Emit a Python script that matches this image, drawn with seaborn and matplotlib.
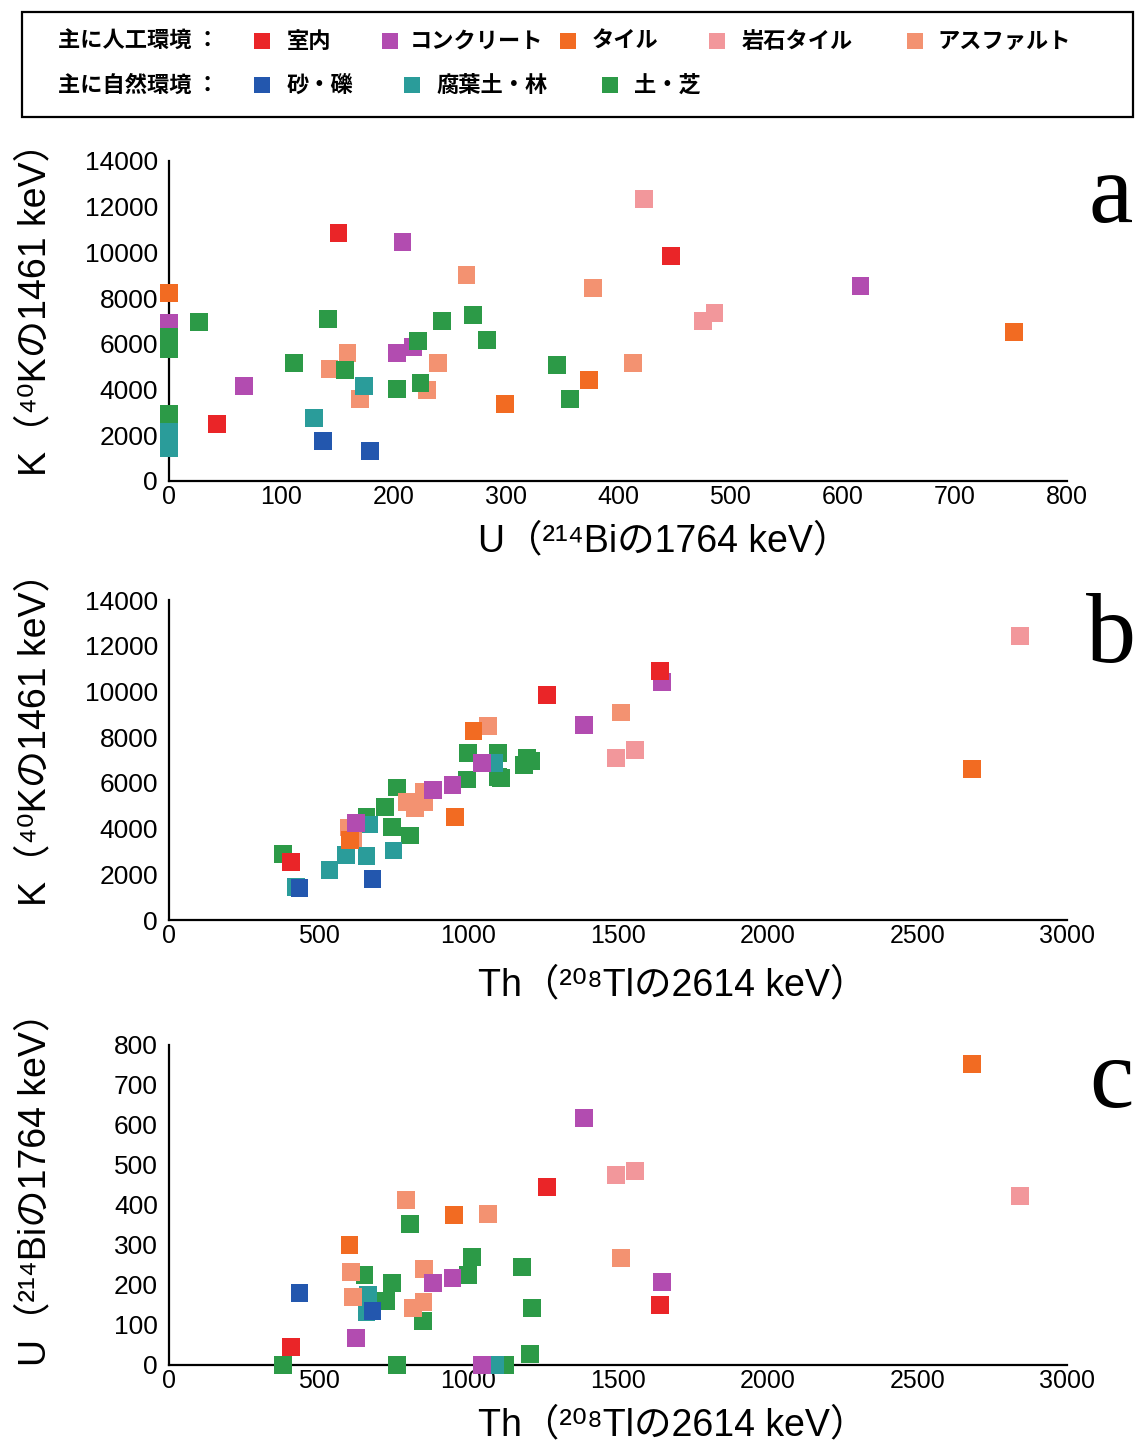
import matplotlib
matplotlib.use("Agg")
import matplotlib.pyplot as plt
import seaborn as sns
import pandas as pd
from matplotlib.patches import Rectangle

# ---------------- data ----------------
groups = ['室内', 'コンクリート', 'タイル', '岩石タイル', 'アスファルト', '砂・礫', '腐葉土・林', '土・芝']
colors = ['#EA2528', '#B24CB0', '#F26B22', '#F2979B', '#F39271', '#2357AE', '#2A9C9A', '#2C9A47']
artificial = ['室内', 'コンクリート', 'タイル', '岩石タイル', 'アスファルト']
natural = ['砂・礫', '腐葉土・林', '土・芝']

# panel a : U (x) vs K (y)
a_group = (['室内'] * 3 + ['コンクリート'] * 6 + ['タイル'] * 4 + ['岩石タイル'] * 3 +
           ['アスファルト'] * 8 + ['砂・礫'] * 2 + ['腐葉土・林'] * 6 + ['土・芝'] * 15)
a_u = [151, 43, 447,
       208, 0, 217, 203, 67, 616,
       0, 299, 374, 753,
       423, 486, 476,
       265, 159, 143, 240, 230, 170, 378, 413,
       137, 179,
       174, 129, 0, 0, 0, 0,
       0, 0, 0, 27, 142, 271, 243, 222, 283, 111, 157, 203, 224, 346, 357]
a_k = [10860, 2480, 9830,
       10470, 6900, 5860, 5610, 4160, 8530,
       8240, 3380, 4430, 6520,
       12350, 7360, 7000,
       9000, 5610, 4890, 5160, 3970, 3570, 8460, 5180,
       1750, 1310,
       4160, 2770, 2800, 2150, 1450, 6200,
       6300, 5750, 2920, 6950, 7070, 7250, 7000, 6120, 6170, 5180, 4860, 4040, 4270, 5070, 3600]

# panel b : Th (x) vs K (y)
b_group = (['室内'] * 3 + ['コンクリート'] * 6 + ['タイル'] * 4 + ['岩石タイル'] * 3 +
           ['アスファルト'] * 8 + ['砂・礫'] * 2 + ['腐葉土・林'] * 7 + ['土・芝'] * 15)
b_th = [1640, 1262, 407,
        1646, 1387, 1047, 947, 883, 625,
        1017, 955, 605, 2682,
        1557, 1493, 2843,
        1510, 1067, 795, 822, 852, 850, 600, 616,
        680, 436,
        668, 660, 1085, 590, 750, 536, 425,
        382, 761, 722, 744, 805, 995, 1000, 1100, 1100, 1185, 1195, 1210, 660, 848, 1110]
b_k = [10900, 9840, 2520,
       10430, 8530, 6880, 5900, 5690, 4230,
       8270, 4520, 3500, 6600,
       7440, 7070, 12420,
       9080, 8490, 5180, 4890, 5160, 5620, 4050, 3570,
       1780, 1400,
       4180, 2800, 6860, 2840, 3040, 2170, 1450,
       2890, 5800, 4930, 4080, 3700, 6150, 7290, 7290, 6270, 6780, 7070, 6950, 4500, 5180, 6200]

# panel c : Th (x) vs U (y)
c_group = (['室内'] * 3 + ['コンクリート'] * 6 + ['タイル'] * 3 + ['岩石タイル'] * 3 +
           ['アスファルト'] * 8 + ['砂・礫'] * 2 + ['腐葉土・林'] * 3 + ['土・芝'] * 13)
c_th = [1640, 1262, 407,
        1387, 1646, 947, 883, 625, 1047,
        2682, 603, 953,
        2843, 1493, 1557,
        791, 1067, 1510, 608, 616, 852, 850, 816,
        436, 680,
        666, 660, 1091,
        805, 1011, 1000, 1178, 1212, 1206, 653, 744, 725, 848, 382, 761, 1123]
c_u = [150, 446, 46,
       617, 208, 217, 204, 68, 0,
       752, 300, 375,
       423, 475, 486,
       412, 378, 267, 232, 171, 240, 158, 142,
       180, 136,
       175, 133, 0,
       352, 271, 225, 244, 142, 27, 225, 204, 161, 110, 0, 0, 0]

x_label_u = 'U（²¹⁴Biの1764 keV）'
x_label_th = 'Th（²⁰⁸Tlの2614 keV）'
y_label_k = 'K（⁴⁰Kの1461 keV）'
y_label_u = 'U（²¹⁴Biの1764 keV）'

# ---------------- style ----------------
sns.set_theme(style="white")
plt.rcParams['font.family'] = ['Liberation Sans', 'Noto Sans CJK JP', 'DejaVu Sans']
LABEL_FAMILY = ['Liberation Sans', 'Noto Sans CJK JP', 'DejaVu Sans']
CJK_FAMILY = ['Noto Sans CJK JP', 'DejaVu Sans']

W, H = 1135, 1443
fig = plt.figure(figsize=(W / 100, H / 100), dpi=100)
fig.patch.set_facecolor('white')

palette = dict(zip(groups, colors))


def px_rect(x0, y_axis_bottom, width, height):
    return [x0 / W, 1 - y_axis_bottom / H, width / W, height / H]


def make_panel(rect, group, xs, ys, xlim, ylim, xstep, ystep, xlabel, ylabel,
               label_y_center, reverse):
    ax = fig.add_axes(rect)
    df = pd.DataFrame({'group': group, 'x': xs, 'y': ys})
    if reverse:
        df = df.iloc[::-1].reset_index(drop=True)
    sns.scatterplot(data=df, x='x', y='y', hue='group', hue_order=groups,
                    palette=palette, marker='s', s=165, linewidth=0,
                    legend=False, ax=ax, clip_on=False, zorder=3)
    ax.set_xlim(*xlim)
    ax.set_ylim(*ylim)
    ax.set_xticks(range(xlim[0], xlim[1] + 1, xstep))
    ax.set_yticks(range(ylim[0], ylim[1] + 1, ystep))
    for side in ['top', 'right']:
        ax.spines[side].set_visible(False)
    for side in ['left', 'bottom']:
        ax.spines[side].set_color('black')
        ax.spines[side].set_linewidth(1.6)
    ax.tick_params(axis='y', direction='in', length=16, width=1.6, color='black',
                   pad=8, labelsize=19)
    ax.tick_params(axis='x', direction='in', length=6, width=1.6, color='black',
                   pad=3, labelsize=18)
    for t in ax.get_xticklabels() + ax.get_yticklabels():
        t.set_fontfamily('Liberation Sans')
        t.set_color('black')
    ax.set_facecolor('white')
    ax.set_xlabel(xlabel, fontsize=27, family=LABEL_FAMILY, color='black')
    ax.xaxis.label.set_horizontalalignment('left')
    ax.xaxis.label.set_verticalalignment('center')
    ax.xaxis.set_label_coords((478 - 169) / 898, -0.19)
    ax.set_ylabel(ylabel, fontsize=27, family=LABEL_FAMILY, color='black')
    ax.yaxis.label.set_verticalalignment('center')
    ax.yaxis.label.set_horizontalalignment('center')
    ax.yaxis.set_label_coords(-0.149, label_y_center)
    return ax


axa = make_panel(px_rect(169, 481, 898, 320), a_group, a_u, a_k, (0, 800), (0, 14000),
                 100, 2000, x_label_u, y_label_k, 0.566, False)
axb = make_panel(px_rect(169, 920, 898, 320), b_group, b_th, b_k, (0, 3000), (0, 14000),
                 500, 2000, x_label_th, y_label_k, 0.594, True)
axc = make_panel(px_rect(169, 1365, 898, 320), c_group, c_th, c_u, (0, 3000), (0, 800),
                 500, 100, x_label_th, y_label_u, 0.578, True)
axb.xaxis.set_label_coords((478 - 169) / 898, -0.205)
axc.xaxis.set_label_coords((478 - 169) / 898, -0.19)

# panel letters
for letter, ybase in [('a', 222), ('b', 662), ('c', 1107)]:
    fig.text(1111 / W, 1 - ybase / H, letter, ha='center', va='baseline',
             fontsize=72, family='Liberation Serif', color='black')

# ---------------- legend box ----------------
fig.add_artist(Rectangle((22 / W, 1 - 117 / H), (1133 - 22) / W, 105 / H,
                         transform=fig.transFigure, fill=False, lw=1.6, ec='black'))
row_y = {0: 41, 1: 85}
fig.text(58 / W, 1 - row_y[0] / H, '主に人工環境 ：', ha='left', va='center',
         fontsize=16, family=CJK_FAMILY, weight='bold', color='black')
fig.text(58 / W, 1 - row_y[1] / H, '主に自然環境 ：', ha='left', va='center',
         fontsize=16, family=CJK_FAMILY, weight='bold', color='black')
row1_marker_x = [262, 390, 568, 717, 915]
row1_label_x = [287, 410, 592, 742, 937]
row2_marker_x = [262, 412, 610]
row2_label_x = [287, 436, 634]
msz = 16
for names, mxs, lxs, ry in [(artificial, row1_marker_x, row1_label_x, row_y[0]),
                            (natural, row2_marker_x, row2_label_x, row_y[1])]:
    for name, mx, lx in zip(names, mxs, lxs):
        fig.add_artist(Rectangle(((mx - msz / 2) / W, 1 - (ry + msz / 2) / H), msz / W, msz / H,
                                 transform=fig.transFigure, fc=palette[name], ec='none'))
        fig.text(lx / W, 1 - ry / H, name, ha='left', va='center', fontsize=16,
                 family=CJK_FAMILY, weight='bold', color='black')

fig.savefig('out.png', dpi=100, facecolor='white')
